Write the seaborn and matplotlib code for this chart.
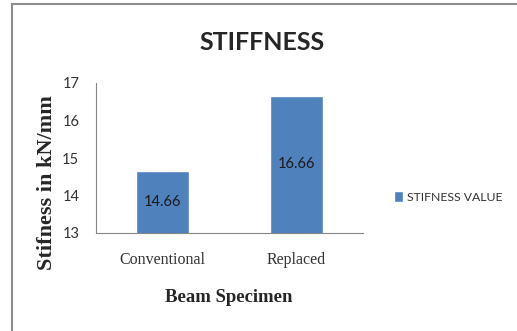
import numpy as np
import pandas as pd
import seaborn as sns
import matplotlib.pyplot as plt
from matplotlib.patches import Rectangle

specimens = ['Conventional', 'Replaced']
stiffness = [14.66, 16.66]
series_name = 'STIFNESS VALUE'
yticks = [13, 14, 15, 16, 17]

df = pd.DataFrame({'Specimen': specimens, 'Stiffness': stiffness})

sns.set_style('white')
plt.rcParams['font.family'] = ['Liberation Sans', 'DejaVu Sans']
serif = ['Liberation Serif', 'DejaVu Serif']
sans = ['Lato', 'DejaVu Sans']

fig = plt.figure(figsize=(5.17, 3.31), dpi=100)
ax = fig.add_axes([96/517, 1-233/331, 267/517, 150/331])

sns.barplot(data=df, x='Specimen', y='Stiffness', color='#4F81BD', saturation=1,
            width=0.4, label=series_name, ax=ax, zorder=2)
if ax.get_legend() is not None:
    ax.get_legend().remove()
ax.set_ylim(13, 17)
ax.set_yticks(yticks)
ax.set_xlim(-0.5, 1.5)

# value labels centred in the visible part of each bar
for i, v in enumerate(stiffness):
    ax.text(i, (13 + v) / 2, f'{v:.2f}', ha='center', va='center',
            fontsize=10.5, color='#1a1a1a', family=sans)

sns.despine(ax=ax)
for s in ['left', 'bottom']:
    ax.spines[s].set_color('#868686')
    ax.spines[s].set_linewidth(0.8)

ax.tick_params(axis='y', length=3, color='#868686', labelsize=10.5, pad=9)
for lab in ax.get_yticklabels():
    lab.set_family(sans)
    lab.set_color('#333333')
ax.tick_params(axis='x', which='major', length=0, pad=14, labelsize=11.5)
ax.set_xticks([-0.5, 0.5, 1.5], minor=True)
ax.tick_params(axis='x', which='minor', length=4, color='#868686')
for lab in ax.get_xticklabels():
    lab.set_family(serif)
    lab.set_color('#333333')

ax.set_xlabel('')
ax.set_ylabel('')
fig.text(229/517, 1-298/331, 'Beam Specimen', ha='center', va='center',
         family=serif, fontweight='bold', fontsize=13.5)
fig.text(47/517, 1-183/331, 'Stifness in kN/mm', ha='center', va='center', rotation=90,
         family=serif, fontweight='bold', fontsize=16)

fig.text(262/517, 1-42/331, 'STIFFNESS', ha='center', va='center', fontsize=18,
         fontweight='bold', family=sans)

leg = fig.legend(loc='center left', bbox_to_anchor=(383/517, 1-197/331), frameon=False,
                 handlelength=0.75, handleheight=1.0, handletextpad=0.3,
                 prop={'family': sans, 'size': 8.8})
for t in leg.get_texts():
    t.set_color('#333333')

fig.patches.append(Rectangle((12/517, -0.05), 1.2, 1 - 4/331 + 0.05, transform=fig.transFigure,
                             fill=False, edgecolor='#8c8c8c', linewidth=1.5))

fig.savefig('out.png', dpi=100)
